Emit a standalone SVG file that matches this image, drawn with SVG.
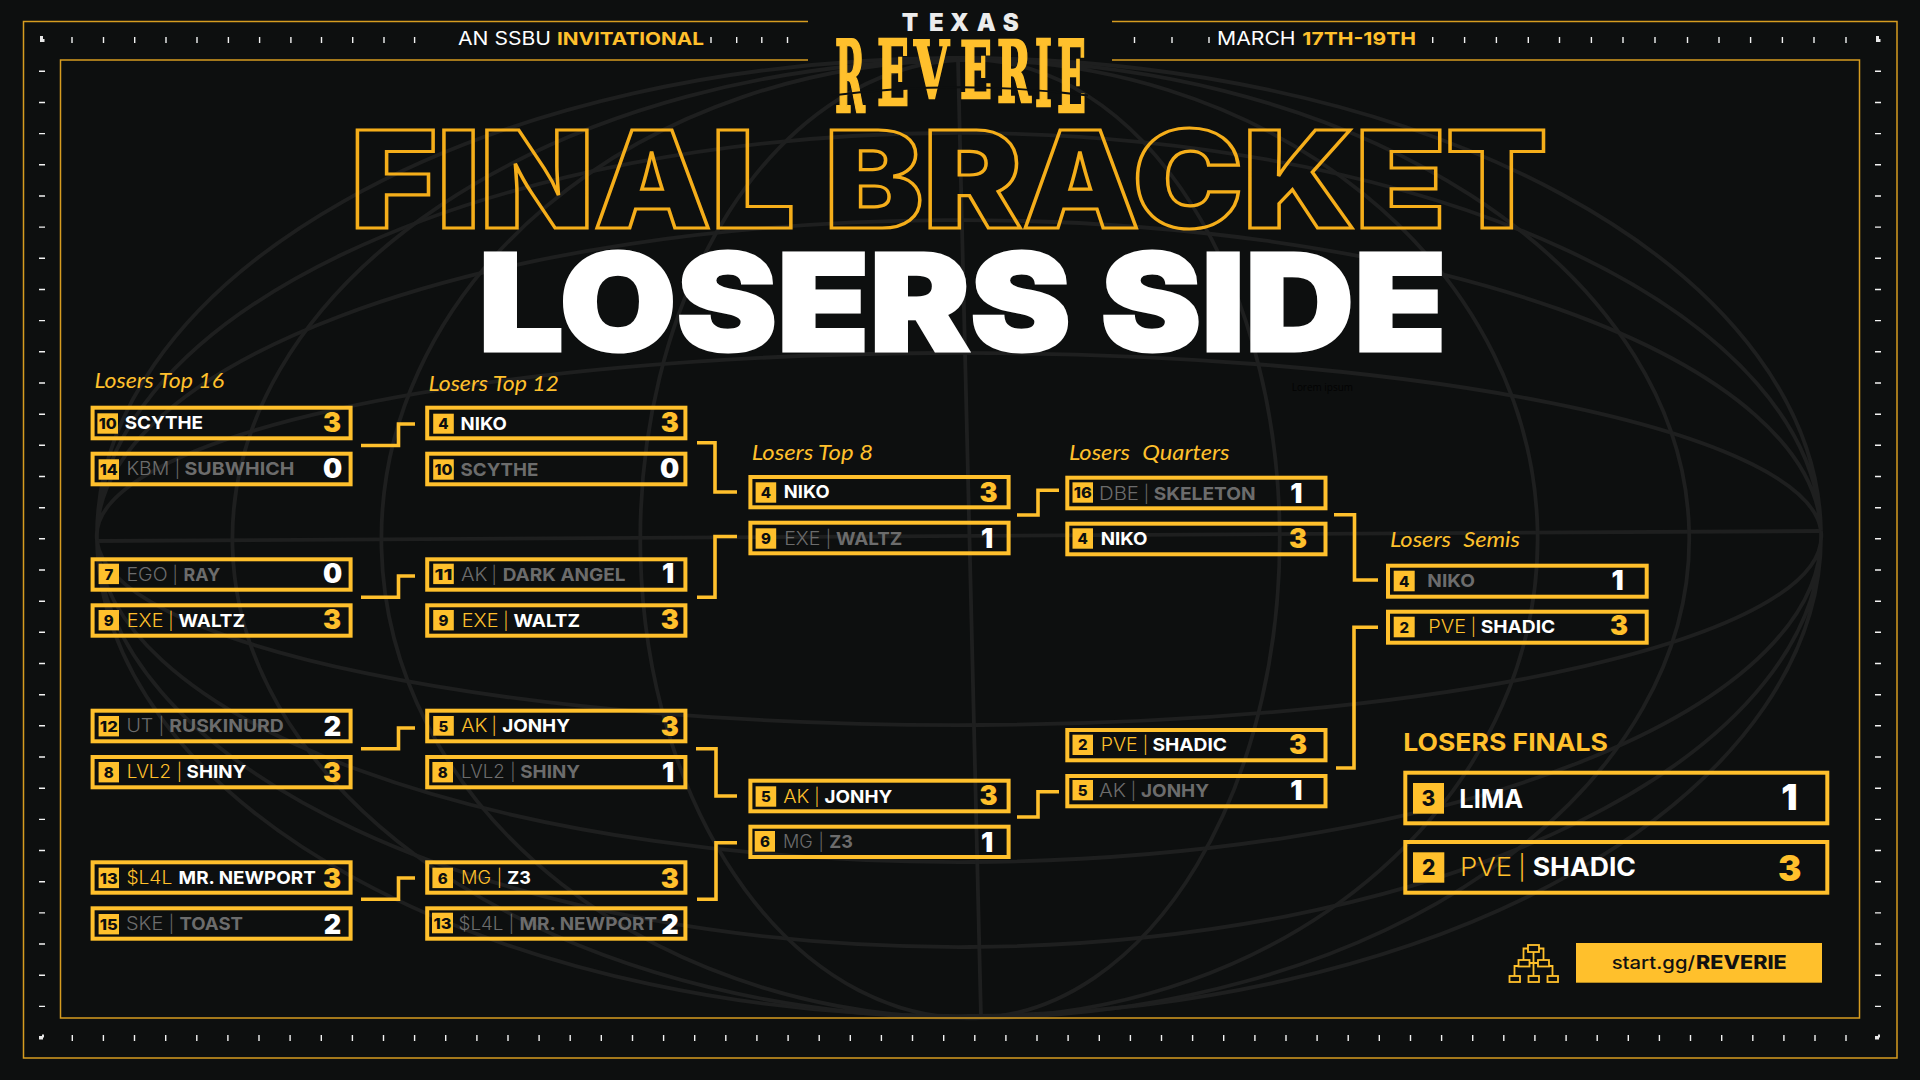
<svg xmlns="http://www.w3.org/2000/svg" width="1920" height="1080" viewBox="0 0 1920 1080">
<style>
text{font-family:Inter,"Liberation Sans",sans-serif}
.bg{fill:#0d0f0f}
.gl{fill:none;stroke:#1e1f1f;stroke-width:3.800}
.fr{fill:none;stroke:#d69c20;stroke-width:1.500}
.tk{stroke:#f2f2f2;stroke-width:1.400}
.b{fill:none;stroke:#ffc02c;stroke-width:4}
.s{fill:#ffc02c}
.c{fill:none;stroke:#ffc02c;stroke-width:3.600}
.sd{font-size:15px;font-weight:800;fill:#0d0f0f;text-anchor:middle}
.t{font-size:18px;font-weight:300}
.p{font-size:17px;font-weight:300;text-anchor:middle}
.n{font-size:18px;font-weight:700}
.sc{font-size:27px;font-weight:900;text-anchor:middle}
.y{fill:#ffc02c}.w{fill:#fff}.g{fill:#6c6c6c}
.lb{font-family:Lato,sans-serif;font-style:italic;font-size:21px;fill:#ffc02c}
.logo{font-family:"DejaVu Serif",serif;font-weight:700;fill:#ffc02c;stroke:#ffc02c;stroke-width:2.500}
</style>
<rect class="bg" width="1920" height="1080"/>
<g id="globe">
<path class="gl" d="M97 541L1821 531"/>
<path class="gl" d="M97 541A862 183 0 0 1 1821 531M97 541A862 316 0 0 1 1821 531M97 541A862 403 0 0 1 1821 531M97 541A862 478 0 0 1 1821 531"/>
<path class="gl" d="M97 541A862 189 0 0 0 1821 531M97 541A862 326 0 0 0 1821 531M97 541A862 411 0 0 0 1821 531M97 541A862 480 0 0 0 1821 531"/>
<path class="gl" d="M958 60L981 1018"/>
<path class="gl" d="M958 60A329 479 0 0 0 981 1018M958 60A588 479 0 0 0 981 1018M958 60A737 479 0 0 0 981 1018"/>
<path class="gl" d="M958 60A310 479 0 0 1 981 1018M958 60A568 479 0 0 1 981 1018M958 60A720 479 0 0 1 981 1018"/>
</g>
<g id="frame">
<path class="fr" d="M808 21.500H23.500V1058H1897V21.500H1112"/>
<path class="fr" d="M808 60H60.500V1018H1859.500V60H1112"/>
<path class="tk" d="M72 37V43M103.500 37V43M134.700 37V43M166 37V43M197 37V43M228.400 37V43M259.600 37V43M290.900 37V43M321.500 37V43M352.700 37V43M384 37V43M414.600 37V43M711 37V43M736.700 37V43M761.800 37V43M787.500 37V43M1134.500 37V43M1172 37V43M1209 37V43M1432.700 37V43M1464.600 37V43M1496.400 37V43M1528.300 37V43M1559.500 37V43M1591.400 37V43M1623 37V43M1655 37V43M1687.500 37V43M1719 37V43M1750.600 37V43M1782.400 37V43M1814 37V43M1846 37V43"/>
<path class="tk" d="M72.300 1035V1041M103.400 1035V1041M134.500 1035V1041M165.700 1035V1041M196.800 1035V1041M227.900 1035V1041M259 1035V1041M290.100 1035V1041M321.300 1035V1041M352.400 1035V1041M383.500 1035V1041M414.600 1035V1041M445.700 1035V1041M476.900 1035V1041M508 1035V1041M539.100 1035V1041M570.200 1035V1041M601.300 1035V1041M632.500 1035V1041M663.600 1035V1041M694.700 1035V1041M725.800 1035V1041M756.900 1035V1041M788.100 1035V1041M819.200 1035V1041M850.300 1035V1041M881.400 1035V1041M912.500 1035V1041M943.700 1035V1041M974.800 1035V1041M1005.900 1035V1041M1037 1035V1041M1068.100 1035V1041M1099.300 1035V1041M1130.400 1035V1041M1161.500 1035V1041M1192.600 1035V1041M1223.700 1035V1041M1254.900 1035V1041M1286 1035V1041M1317.100 1035V1041M1348.200 1035V1041M1379.300 1035V1041M1410.500 1035V1041M1441.600 1035V1041M1472.700 1035V1041M1503.800 1035V1041M1534.900 1035V1041M1566.100 1035V1041M1597.200 1035V1041M1628.300 1035V1041M1659.400 1035V1041M1690.500 1035V1041M1721.700 1035V1041M1752.800 1035V1041M1783.900 1035V1041M1815 1035V1041M1846 1035V1041"/>
<path class="tk" d="M39 71.300H45M39 102.500H45M39 133.600H45M39 164.800H45M39 196H45M39 227.100H45M39 258.300H45M39 289.500H45M39 320.600H45M39 351.800H45M39 383H45M39 414.200H45M39 445.300H45M39 476.500H45M39 507.700H45M39 538.800H45M39 570H45M39 601.200H45M39 632.300H45M39 663.500H45M39 694.700H45M39 725.800H45M39 757H45M39 788.200H45M39 819.400H45M39 850.500H45M39 881.700H45M39 912.900H45M39 944H45M39 975.200H45M39 1006.400H45"/>
<path class="tk" d="M1875 71.300H1881M1875 102.500H1881M1875 133.600H1881M1875 164.800H1881M1875 196H1881M1875 227.100H1881M1875 258.300H1881M1875 289.500H1881M1875 320.600H1881M1875 351.800H1881M1875 383H1881M1875 414.200H1881M1875 445.300H1881M1875 476.500H1881M1875 507.700H1881M1875 538.800H1881M1875 570H1881M1875 601.200H1881M1875 632.300H1881M1875 663.500H1881M1875 694.700H1881M1875 725.800H1881M1875 757H1881M1875 788.200H1881M1875 819.400H1881M1875 850.500H1881M1875 881.700H1881M1875 912.900H1881M1875 944H1881M1875 975.200H1881M1875 1006.400H1881"/>
<path fill="#e8e8e8" d="M40 36h3v3h1.500v3h-4.500zM1876 36h3v3h1.500v3h-4.500zM39 1036h3v-1.500h2v3h-1v2h-4zM1875 1036h3v-1.500h2v3h-1v2h-4z"/>
</g>
<g id="header">
<text x="458" y="45" font-size="18" font-weight="400" fill="#fff" textLength="93" lengthAdjust="spacingAndGlyphs">AN SSBU</text>
<text x="557" y="45" font-size="18" font-weight="700" class="y" textLength="147" lengthAdjust="spacingAndGlyphs">INVITATIONAL</text>
<text x="1217" y="45" font-size="18" font-weight="400" fill="#fff" textLength="78.600" lengthAdjust="spacingAndGlyphs">MARCH</text>
<text x="1302.300" y="45" font-size="18" font-weight="700" class="y" textLength="113.700" lengthAdjust="spacingAndGlyphs">17TH-19TH</text>
</g>
<g id="logo">
<text x="901.700 929 950 976.700 1002.700" y="30.700" font-size="24" font-weight="900" fill="#ececec">TEXAS</text>
<text class="logo" x="835" y="111.800" font-size="99" textLength="30" lengthAdjust="spacingAndGlyphs">R</text>
<text class="logo" x="877" y="105" font-size="89" textLength="32" lengthAdjust="spacingAndGlyphs">E</text>
<text class="logo" x="914" y="98" font-size="79" textLength="35" lengthAdjust="spacingAndGlyphs">V</text>
<text class="logo" x="960" y="98" font-size="79" textLength="32" lengthAdjust="spacingAndGlyphs">E</text>
<text class="logo" x="997" y="102" font-size="85" textLength="34" lengthAdjust="spacingAndGlyphs">R</text>
<text class="logo" x="1035" y="106" font-size="91" textLength="17" lengthAdjust="spacingAndGlyphs">I</text>
<text class="logo" x="1057" y="111.800" font-size="99" textLength="29" lengthAdjust="spacingAndGlyphs">E</text>
<path d="M832 95.500Q960 79 1088 95.500" fill="none" stroke="#0d0f0f" stroke-width="1.800"/>
</g>
<g id="title">
<text x="350.500" y="228" font-size="135" font-weight="900" fill="none" stroke="#f5ae1a" stroke-width="3.200" textLength="1197" lengthAdjust="spacingAndGlyphs">FINAL BRACKET</text>
<text x="478.500" y="351" font-size="135" font-weight="900" fill="#fff" stroke="#fff" stroke-width="3" textLength="968" lengthAdjust="spacingAndGlyphs">LOSERS SIDE</text>
</g>
<text x="1291.700" y="391" font-size="11" fill="#030303" style="font-family:'Open Sans',sans-serif" textLength="61.300" lengthAdjust="spacingAndGlyphs">Lorem ipsum</text>
<g id="labels">
<text class="lb" x="94.400" y="388.300" textLength="129.600" lengthAdjust="spacingAndGlyphs">Losers Top 16</text>
<text class="lb" x="428.600" y="390.700" textLength="130.400" lengthAdjust="spacingAndGlyphs">Losers Top 12</text>
<text class="lb" x="751.800" y="460" textLength="121.200" lengthAdjust="spacingAndGlyphs">Losers Top 8</text>
<text class="lb" x="1069" y="460" word-spacing="6" textLength="160.500" lengthAdjust="spacingAndGlyphs">Losers Quarters</text>
<text class="lb" x="1390" y="546.700" word-spacing="6" textLength="130" lengthAdjust="spacingAndGlyphs">Losers Semis</text>
<text x="1403.300" y="750.700" font-size="24" font-weight="700" class="y" textLength="204.700" lengthAdjust="spacingAndGlyphs">LOSERS FINALS</text>
</g>
<g id="connectors">
<path class="c" d="M361 445.500H398.500V424H415"/>
<path class="c" d="M361 597.300H398.500V576H415"/>
<path class="c" d="M361 748.700H398.500V728H415"/>
<path class="c" d="M361 899.300H398.500V878H415"/>
<path class="c" d="M697 442.700H715V492H737"/>
<path class="c" d="M697 597.300H715V536.500H737"/>
<path class="c" d="M696 748.700H716V796H737"/>
<path class="c" d="M697 899.300H716V842.700H737"/>
<path class="c" d="M1017 515H1038V490.300H1059"/>
<path class="c" d="M1017 817H1038V791.700H1059"/>
<path class="c" d="M1334 514.700H1354.500V580H1378"/>
<path class="c" d="M1378 627.300H1354V768H1336"/>
</g>
<g id="m1a"><rect class="b" x="92.600" y="407.700" width="258" height="30.600"/><rect class="s" x="97.400" y="413.300" width="20.600" height="20.400"/><text class="sd" x="107.700" y="429" textLength="18" lengthAdjust="spacingAndGlyphs">10</text><text class="n w" x="124.700" y="429" textLength="78.300" lengthAdjust="spacingAndGlyphs">SCYTHE</text><text class="sc y" x="332" y="431.700">3</text></g>
<g id="m1b"><rect class="b" x="92.600" y="453.700" width="258" height="30.600"/><rect class="s" x="98.600" y="459.300" width="20.400" height="20.400"/><text class="sd" x="108.800" y="475" textLength="18" lengthAdjust="spacingAndGlyphs">14</text><text class="t g" x="126.400" y="475.300" textLength="42.900" lengthAdjust="spacingAndGlyphs">KBM</text><text class="p g" x="177.300" y="475.300">|</text><text class="n g" x="184.500" y="475.300" textLength="109.800" lengthAdjust="spacingAndGlyphs">SUBWHICH</text><text class="sc w" x="332.500" y="478">0</text></g>
<g id="m2a"><rect class="b" x="92.600" y="559.300" width="258" height="30.400"/><rect class="s" x="98.600" y="563.700" width="20.400" height="20.400"/><text class="sd" x="108.800" y="579.500">7</text><text class="t g" x="126.400" y="581" textLength="41.200" lengthAdjust="spacingAndGlyphs">EGO</text><text class="p g" x="175.200" y="581">|</text><text class="n g" x="183.600" y="581" textLength="36.700" lengthAdjust="spacingAndGlyphs">RAY</text><text class="sc w" x="332.500" y="583.300">0</text></g>
<g id="m2b"><rect class="b" x="92.600" y="605.300" width="258" height="30.400"/><rect class="s" x="98.600" y="610" width="20.400" height="20.400"/><text class="sd" x="108.800" y="625.800">9</text><text class="t y" x="126.800" y="626.700" textLength="36.600" lengthAdjust="spacingAndGlyphs">EXE</text><text class="p y" x="171" y="626.700">|</text><text class="n w" x="178.600" y="626.700" textLength="66.400" lengthAdjust="spacingAndGlyphs">WALTZ</text><text class="sc y" x="332" y="629.300">3</text></g>
<g id="m3a"><rect class="b" x="92.600" y="710.700" width="258" height="30.600"/><rect class="s" x="98.600" y="716" width="20.400" height="20.400"/><text class="sd" x="108.800" y="731.800" textLength="18" lengthAdjust="spacingAndGlyphs">12</text><text class="t g" x="126.400" y="732" textLength="26.900" lengthAdjust="spacingAndGlyphs">UT</text><text class="p g" x="161.300" y="732">|</text><text class="n g" x="169.300" y="732" textLength="114.500" lengthAdjust="spacingAndGlyphs">RUSKINURD</text><text class="sc w" x="332.500" y="736">2</text></g>
<g id="m3b"><rect class="b" x="92.600" y="757" width="258" height="30.300"/><rect class="s" x="98.600" y="762" width="20.400" height="20.400"/><text class="sd" x="108.800" y="777.800">8</text><text class="t y" x="126.800" y="778" textLength="44.200" lengthAdjust="spacingAndGlyphs">LVL2</text><text class="p y" x="179.400" y="778">|</text><text class="n w" x="186.600" y="778" textLength="59.700" lengthAdjust="spacingAndGlyphs">SHINY</text><text class="sc y" x="332" y="781.700">3</text></g>
<g id="m4a"><rect class="b" x="92.600" y="862.300" width="258" height="30.400"/><rect class="s" x="98.600" y="867.700" width="20.400" height="20.400"/><text class="sd" x="108.800" y="883.500" textLength="18" lengthAdjust="spacingAndGlyphs">13</text><text class="t y" x="126.400" y="884" textLength="45.900" lengthAdjust="spacingAndGlyphs">$L4L</text><text class="n w" x="178.600" y="884" textLength="137.200" lengthAdjust="spacingAndGlyphs">MR. NEWPORT</text><text class="sc y" x="332" y="887.500">3</text></g>
<g id="m4b"><rect class="b" x="92.600" y="908.300" width="258" height="30.400"/><rect class="s" x="98.600" y="914" width="20.400" height="20.400"/><text class="sd" x="108.800" y="929.800" textLength="18" lengthAdjust="spacingAndGlyphs">15</text><text class="t g" x="126" y="930" textLength="37.400" lengthAdjust="spacingAndGlyphs">SKE</text><text class="p g" x="171.400" y="930">|</text><text class="n g" x="179.400" y="930" textLength="63.600" lengthAdjust="spacingAndGlyphs">TOAST</text><text class="sc w" x="332.500" y="934">2</text></g>
<g id="m5a"><rect class="b" x="427.200" y="407.700" width="258.200" height="30.600"/><rect class="s" x="433.200" y="413.700" width="20.600" height="20"/><text class="sd" x="443.500" y="429.300">4</text><text class="n w" x="460.600" y="429.700" textLength="46.300" lengthAdjust="spacingAndGlyphs">NIKO</text><text class="sc y" x="669.700" y="431.700">3</text></g>
<g id="m5b"><rect class="b" x="427.200" y="453.700" width="258.200" height="30.600"/><rect class="s" x="433.200" y="459.300" width="20.600" height="20.400"/><text class="sd" x="443.500" y="475" textLength="18" lengthAdjust="spacingAndGlyphs">10</text><text class="n g" x="460.600" y="476" textLength="77.800" lengthAdjust="spacingAndGlyphs">SCYTHE</text><text class="sc w" x="669.700" y="478">0</text></g>
<g id="m6a"><rect class="b" x="427.200" y="559.300" width="258.200" height="30.400"/><rect class="s" x="433.200" y="563.700" width="20.600" height="20.400"/><text class="sd" x="443.500" y="579.500" textLength="18" lengthAdjust="spacingAndGlyphs">11</text><text class="t g" x="461" y="581" textLength="26.500" lengthAdjust="spacingAndGlyphs">AK</text><text class="p g" x="494.200" y="581">|</text><text class="n g" x="502.700" y="581" textLength="122.900" lengthAdjust="spacingAndGlyphs">DARK ANGEL</text><text class="sc w" x="668" y="583.300">1</text></g>
<g id="m6b"><rect class="b" x="427.200" y="605.300" width="258.200" height="30.400"/><rect class="s" x="433.200" y="610" width="20.600" height="20.400"/><text class="sd" x="443.500" y="625.800">9</text><text class="t y" x="461.800" y="626.700" textLength="36.700" lengthAdjust="spacingAndGlyphs">EXE</text><text class="p y" x="506" y="626.700">|</text><text class="n w" x="513.600" y="626.700" textLength="66.400" lengthAdjust="spacingAndGlyphs">WALTZ</text><text class="sc y" x="669.700" y="629.300">3</text></g>
<g id="m7a"><rect class="b" x="427.200" y="710.700" width="258.200" height="30.600"/><rect class="s" x="433.200" y="716" width="20.600" height="19.700"/><text class="sd" x="443.500" y="731.500">5</text><text class="t y" x="461" y="732" textLength="26.500" lengthAdjust="spacingAndGlyphs">AK</text><text class="p y" x="494.200" y="732">|</text><text class="n w" x="502.200" y="732" textLength="67.800" lengthAdjust="spacingAndGlyphs">JONHY</text><text class="sc y" x="669.700" y="735.500">3</text></g>
<g id="m7b"><rect class="b" x="427.200" y="757" width="258.200" height="30.300"/><rect class="s" x="432.400" y="762" width="20.600" height="20.400"/><text class="sd" x="442.700" y="777.800">8</text><text class="t g" x="461" y="778" textLength="43.800" lengthAdjust="spacingAndGlyphs">LVL2</text><text class="p g" x="512.800" y="778">|</text><text class="n g" x="520.300" y="778" textLength="59.700" lengthAdjust="spacingAndGlyphs">SHINY</text><text class="sc w" x="668" y="781.700">1</text></g>
<g id="m8a"><rect class="b" x="427.200" y="862.300" width="258.200" height="30.400"/><rect class="s" x="432.400" y="867.700" width="20.600" height="20.400"/><text class="sd" x="442.700" y="883.500">6</text><text class="t y" x="461" y="884" textLength="30" lengthAdjust="spacingAndGlyphs">MG</text><text class="p y" x="499.300" y="884">|</text><text class="n w" x="507.300" y="884" textLength="23.600" lengthAdjust="spacingAndGlyphs">Z3</text><text class="sc y" x="669.700" y="887.500">3</text></g>
<g id="m8b"><rect class="b" x="427.200" y="908.300" width="258.200" height="30.400"/><rect class="s" x="432" y="912.700" width="21" height="20.600"/><text class="sd" x="442.500" y="928.500" textLength="18" lengthAdjust="spacingAndGlyphs">13</text><text class="t g" x="458.500" y="930" textLength="45" lengthAdjust="spacingAndGlyphs">$L4L</text><text class="p g" x="511.500" y="930">|</text><text class="n g" x="519.500" y="930" textLength="137.500" lengthAdjust="spacingAndGlyphs">MR. NEWPORT</text><text class="sc w" x="670" y="934">2</text></g>
<g id="m9a"><rect class="b" x="750.400" y="477" width="258.200" height="30.300"/><rect class="s" x="755.600" y="482.300" width="20.600" height="20.400"/><text class="sd" x="765.900" y="498">4</text><text class="n w" x="783.800" y="498.300" textLength="45.800" lengthAdjust="spacingAndGlyphs">NIKO</text><text class="sc y" x="988.500" y="501.700">3</text></g>
<g id="m9b"><rect class="b" x="750.400" y="522.700" width="258.200" height="30.600"/><rect class="s" x="755.600" y="528.300" width="20.600" height="20.400"/><text class="sd" x="765.900" y="544">9</text><text class="t g" x="784.200" y="544.700" textLength="36.200" lengthAdjust="spacingAndGlyphs">EXE</text><text class="p g" x="828.400" y="544.700">|</text><text class="n g" x="836" y="544.700" textLength="66.400" lengthAdjust="spacingAndGlyphs">WALTZ</text><text class="sc w" x="987" y="548">1</text></g>
<g id="m10a"><rect class="b" x="750.400" y="780.700" width="258.200" height="30.600"/><rect class="s" x="755.600" y="786.300" width="20.600" height="20.400"/><text class="sd" x="765.900" y="802">5</text><text class="t y" x="783.300" y="802.700" textLength="26.100" lengthAdjust="spacingAndGlyphs">AK</text><text class="p y" x="817" y="802.700">|</text><text class="n w" x="824.600" y="802.700" textLength="67.700" lengthAdjust="spacingAndGlyphs">JONHY</text><text class="sc y" x="988.500" y="805.300">3</text></g>
<g id="m10b"><rect class="b" x="750.400" y="826.700" width="258.200" height="30.300"/><rect class="s" x="754.700" y="831" width="20.300" height="20.700"/><text class="sd" x="764.900" y="847">6</text><text class="t g" x="783" y="847.700" textLength="29.800" lengthAdjust="spacingAndGlyphs">MG</text><text class="p g" x="821.200" y="847.700">|</text><text class="n g" x="829.200" y="847.700" textLength="23.600" lengthAdjust="spacingAndGlyphs">Z3</text><text class="sc w" x="987" y="852">1</text></g>
<g id="m11a"><rect class="b" x="1067.300" y="477.700" width="258.200" height="30.600"/><rect class="s" x="1072.500" y="482.300" width="20.500" height="20.400"/><text class="sd" x="1082.700" y="498" textLength="18" lengthAdjust="spacingAndGlyphs">16</text><text class="t g" x="1099" y="499.700" textLength="40" lengthAdjust="spacingAndGlyphs">DBE</text><text class="p g" x="1146.500" y="499.700">|</text><text class="n g" x="1153.700" y="499.700" textLength="101.900" lengthAdjust="spacingAndGlyphs">SKELETON</text><text class="sc w" x="1296.300" y="502.700">1</text></g>
<g id="m11b"><rect class="b" x="1067.300" y="523.700" width="258.200" height="30.600"/><rect class="s" x="1072.500" y="528.300" width="20.500" height="20.400"/><text class="sd" x="1082.700" y="544">4</text><text class="n w" x="1100.700" y="545.300" textLength="46.700" lengthAdjust="spacingAndGlyphs">NIKO</text><text class="sc y" x="1298" y="548.300">3</text></g>
<g id="m12a"><rect class="b" x="1067.300" y="730" width="258.200" height="30.300"/><rect class="s" x="1072.500" y="734.700" width="20.500" height="20.300"/><text class="sd" x="1082.700" y="750.300">2</text><text class="t y" x="1100.700" y="750.700" textLength="37" lengthAdjust="spacingAndGlyphs">PVE</text><text class="p y" x="1145.300" y="750.700">|</text><text class="n w" x="1152.400" y="750.700" textLength="74.600" lengthAdjust="spacingAndGlyphs">SHADIC</text><text class="sc y" x="1298" y="753.700">3</text></g>
<g id="m12b"><rect class="b" x="1067.300" y="776" width="258.200" height="30.300"/><rect class="s" x="1072.500" y="780" width="20.500" height="20.300"/><text class="sd" x="1082.700" y="795.800">5</text><text class="t g" x="1099" y="797.300" textLength="27" lengthAdjust="spacingAndGlyphs">AK</text><text class="p g" x="1133.500" y="797.300">|</text><text class="n g" x="1141" y="797.300" textLength="68" lengthAdjust="spacingAndGlyphs">JONHY</text><text class="sc w" x="1296.300" y="800.300">1</text></g>
<g id="m13a"><rect class="b" x="1388" y="565.700" width="258.700" height="31"/><rect class="s" x="1393.700" y="570.700" width="21" height="20.600"/><text class="sd" x="1404.200" y="586.500">4</text><text class="n g" x="1427.300" y="586.700" textLength="47.700" lengthAdjust="spacingAndGlyphs">NIKO</text><text class="sc w" x="1617.700" y="590">1</text></g>
<g id="m13b"><rect class="b" x="1388" y="611.700" width="258.700" height="31"/><rect class="s" x="1393.700" y="616.700" width="21" height="20.600"/><text class="sd" x="1404.200" y="632.500">2</text><text class="t y" x="1428.300" y="633.300" textLength="37.700" lengthAdjust="spacingAndGlyphs">PVE</text><text class="p y" x="1473.300" y="633.300">|</text><text class="n w" x="1480.700" y="633.300" textLength="74.600" lengthAdjust="spacingAndGlyphs">SHADIC</text><text class="sc y" x="1619" y="635.300">3</text></g>
<g id="final-a"><rect class="b" x="1405.300" y="772.700" width="422" height="50.600"/><rect class="s" x="1413" y="783" width="31" height="30.700"/><text class="sd" x="1428.500" y="806" style="font-size:21px">3</text><text x="1459.300" y="808" font-size="25" font-weight="700" class="w" textLength="64" lengthAdjust="spacingAndGlyphs">LIMA</text><text class="sc w" x="1789.500" y="810" style="font-size:36px">1</text></g>
<g id="final-b"><rect class="b" x="1405.300" y="842" width="422" height="50.700"/><rect class="s" x="1413" y="852.300" width="31.300" height="30.400"/><text class="sd" x="1428.600" y="875" style="font-size:21px">2</text><text x="1460" y="876" font-size="25" font-weight="300" class="y" textLength="52" lengthAdjust="spacingAndGlyphs">PVE</text><text x="1522" y="876" font-size="24" font-weight="300" class="y" text-anchor="middle">|</text><text x="1532.700" y="876" font-size="25" font-weight="700" class="w" textLength="103.300" lengthAdjust="spacingAndGlyphs">SHADIC</text><text class="sc y" x="1789.700" y="880.700" style="font-size:35px">3</text></g>
<g id="link">
<rect class="s" x="1576" y="943" width="246" height="39.700"/>
<text x="1611.700" y="968.700" font-size="18" font-weight="500" fill="#111" textLength="83.300" lengthAdjust="spacingAndGlyphs">start.gg/</text>
<text x="1696" y="968.700" font-size="18.500" font-weight="800" fill="#111" textLength="90.700" lengthAdjust="spacingAndGlyphs">REVERIE</text>
</g>
<g id="icon" fill="none" stroke="#ffc02c" stroke-width="1.800">
<rect x="1528" y="945" width="11" height="7"/><rect x="1518.500" y="960" width="11" height="6.500"/><rect x="1538" y="960" width="11" height="6.500"/><rect x="1509.500" y="976" width="10.500" height="6"/><rect x="1528.500" y="976" width="10.500" height="6"/><rect x="1547.500" y="976" width="10.500" height="6"/>
<path d="M1523.500 960V948.500H1528M1539 948.500H1543.500V960M1533.500 952V976M1529.500 963H1538M1514.500 976V966H1518.500M1549 966H1552.500V976"/>
</g>
</svg>
